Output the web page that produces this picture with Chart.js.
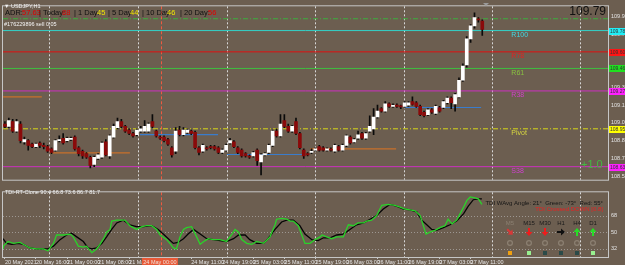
<!DOCTYPE html>
<html>
<head>
<meta charset="utf-8">
<script src="https://cdn.jsdelivr.net/npm/chart.js@4.4.1/dist/chart.umd.min.js"></script>
<style>
html, body { margin: 0; padding: 0; background: #6c5e50; overflow: hidden; }
#wrap { position: relative; width: 625px; height: 265px; }
canvas { position: absolute; left: 0; }
#main { top: 0; }
#tdi { top: 186px; }
</style>
</head>
<body>
<div id="wrap">
  <canvas id="main" width="625" height="186"></canvas>
  <canvas id="tdi" width="625" height="79"></canvas>
</div>
<script>
// USDJPY H1 candles (bar index 0 = first visible bar)
const opens  = [108.99,108.97,109.01,108.93,108.99,108.84,108.85,108.82,108.80,108.83,108.81,108.80,108.78,108.77,108.85,108.87,108.85,108.86,108.88,108.79,
                108.76,108.74,108.71,108.65,108.70,108.71,108.84,108.72,108.88,108.96,109.01,108.97,108.94,108.91,108.90,108.93,108.93,108.93,109.01,108.93,
                108.88,108.88,108.86,108.79,108.76,108.94,108.90,108.92,108.93,108.92,108.79,108.76,108.79,108.80,108.80,108.79,108.75,108.77,108.83,108.84,
                108.79,108.77,108.74,108.72,108.72,108.77,108.67,108.73,108.75,108.81,108.93,108.89,109.02,108.97,108.93,109.01,108.91,108.77,108.74,108.75,
                108.77,108.80,108.79,108.77,108.775,108.76,108.80,108.77,108.81,108.88,108.84,108.87,108.91,108.87,108.93,108.95,109.05,109.12,109.10,109.16,
                109.14,109.15,109.14,109.14,109.15,109.18,109.17,109.14,109.09,109.07,109.11,109.08,109.13,109.13,109.17,109.21,109.16,109.22,109.36,109.49,
                109.71,109.82,109.88,109.86];
const highs  = [109.01,109.04,109.03,109.03,109.01,108.88,108.86,108.83,108.83,108.84,108.83,108.81,108.79,108.86,108.89,108.91,108.88,108.88,108.89,108.80,
                108.77,108.75,108.72,108.72,108.74,108.84,108.86,108.90,108.99,109.04,109.03,108.98,108.95,108.92,108.95,108.97,109.02,109.00,109.07,108.94,
                108.89,108.89,108.87,108.80,108.96,108.97,108.96,108.95,108.94,108.93,108.80,108.82,108.80,108.81,108.81,108.80,108.78,108.82,108.87,108.85,
                108.80,108.78,108.75,108.73,108.76,108.78,108.74,108.75,108.82,108.94,108.95,109.07,109.07,108.99,108.98,109.04,108.92,108.78,108.75,108.78,
                108.79,108.81,108.80,108.79,108.79,108.82,108.81,108.82,108.90,108.89,108.87,108.93,108.92,108.92,109.06,109.12,109.15,109.13,109.18,109.17,
                109.16,109.16,109.15,109.18,109.18,109.22,109.18,109.15,109.10,109.12,109.12,109.15,109.14,109.19,109.22,109.22,109.25,109.38,109.50,109.73,
                109.83,109.93,109.89,109.87];
const lows   = [108.96,108.96,108.92,108.92,108.83,108.82,108.77,108.79,108.79,108.79,108.78,108.75,108.74,108.76,108.84,108.82,108.84,108.85,108.77,108.72,
                108.70,108.70,108.62,108.63,108.69,108.70,108.72,108.70,108.87,108.95,108.96,108.92,108.90,108.88,108.89,108.92,108.92,108.92,108.96,108.88,
                108.86,108.84,108.81,108.71,108.74,108.89,108.89,108.91,108.90,108.78,108.73,108.75,108.77,108.78,108.77,108.74,108.74,108.76,108.82,108.79,
                108.74,108.71,108.71,108.70,108.71,108.64,108.56,108.72,108.74,108.80,108.88,108.88,108.96,108.92,108.92,108.90,108.78,108.70,108.72,108.74,
                108.76,108.76,108.76,108.76,108.76,108.75,108.76,108.76,108.80,108.82,108.83,108.86,108.86,108.86,108.92,108.90,109.04,109.09,109.09,109.13,
                109.13,109.13,109.12,109.13,109.14,109.15,109.13,109.06,109.05,109.06,109.08,109.07,109.09,109.12,109.16,109.12,109.10,109.21,109.35,109.47,
                109.68,109.80,109.85,109.74];
const closes = [108.97,109.02,108.93,109.01,108.85,108.86,108.81,108.80,108.82,108.81,108.80,108.76,108.75,108.85,108.86,108.83,108.87,108.87,108.78,108.74,
                108.72,108.71,108.64,108.71,108.73,108.83,108.73,108.89,108.97,109.01,108.97,108.93,108.91,108.89,108.94,108.95,108.97,108.99,108.97,108.89,
                108.87,108.85,108.82,108.73,108.93,108.90,108.94,108.94,108.91,108.79,108.75,108.81,108.78,108.79,108.78,108.75,108.77,108.81,108.85,108.80,
                108.75,108.72,108.72,108.71,108.75,108.68,108.73,108.74,108.81,108.93,108.89,108.99,108.97,108.93,108.97,108.91,108.79,108.72,108.73,108.76,
                108.78,108.77,108.77,108.78,108.77,108.81,108.77,108.81,108.89,108.83,108.86,108.90,108.87,108.91,108.97,109.05,109.10,109.10,109.16,109.14,
                109.145,109.14,109.135,109.17,109.17,109.155,109.14,109.07,109.06,109.11,109.09,109.14,109.10,109.18,109.21,109.17,109.24,109.36,109.48,109.71,
                109.82,109.89,109.87,109.79];

// horizontal levels drawn across the whole panel
const levelNames  = ['R100', 'R78', 'R61', 'R38', 'Pivot', 'S38'];
const levelPrices = [109.78, 109.60, 109.46, 109.27, 108.95, 108.63];
const adrHigh = 109.88;

// short horizontal segments (bar index from / to, price)
const segFrom  = [-0.5, 11.6, 34.8, 57.2, 78.6, 103.1];
const segTo    = [9.5, 32.2, 54.9, 77.3, 100.8, 122.7];
const segPrice = [109.22, 108.747, 108.90, 108.733, 108.78, 109.13];

// TDI lines: bar index and value
const tdiGreenX = [-0.5,-0.4,0.8,2.2,3.9,4.7,6.4,8.1,9.9,11.1,12.5,13.3,15.1,16.8,17.6,18.9,20.2,21.0,22.4,23.6,24.5,25.4,26.2,27.1,27.5,28.8,30.1,30.9,32.2,33.9,
                   35.3,36.5,37.8,39.1,40.0,41.7,42.5,43.4,44.2,45.1,46.0,46.8,48.1,49.4,50.3,51.6,52.4,53.7,55.4,57.1,58.5,59.3,60.2,61.0,62.3,63.6,64.9,66.6,67.4,68.3,
                   69.6,70.0,71.3,72.6,73.5,74.3,75.6,76.5,77.3,78.6,79.9,81.2,81.7,82.9,84.2,85.5,87.2,88.5,89.8,91.0,92.4,93.2,94.5,95.8,97.1,98.8,100.5,101.8,103.1,104.4,
                   105.7,107.0,108.5,109.5,110.8,112.1,113.4,114.2,115.2,116.4,117.3,118.2,119.0,119.9,121.1,122.0,122.9];
const tdiGreen  = [33,35,40,38,39,37,33,32,32,30,38,47,47,48,45,35,34,35,28,32,37,43,50,53,62,63,63,63,57,53,
                   56,57,57,53,47,42,38,33,32,45,53,55,56,45,37,41,43,42,42,40,48,53,50,42,38,37,40,38,41,45,
                   58,64,65,64,62,62,57,47,38,38,42,45,47,45,43,45,45,58,57,60,60,62,63,68,79,80,79,77,75,74,
                   73,68,48,50,52,55,57,64,59,63,70,77,84,88,87,86,80];
const tdiBlackX = [-0.5,0.4,1.8,3.4,4.7,6.4,8.1,9.9,11.1,12.5,14.2,15.9,17.2,18.5,20.2,21.4,22.4,23.6,25.0,26.2,27.5,28.8,30.5,32.2,33.9,35.7,37.8,39.5,40.8,42.1,
                   43.4,44.6,46.0,47.2,48.6,50.3,52.0,53.7,55.4,57.1,58.9,60.2,61.9,63.1,64.9,66.6,67.8,69.6,71.3,72.6,74.3,76.0,77.3,79.1,80.7,82.1,83.8,85.5,87.2,88.9,
                   90.6,92.4,94.1,95.8,97.5,99.2,100.9,102.7,104.4,106.1,107.4,108.7,110.0,111.2,113.0,114.7,116.4,118.2,119.4,120.7,122.0,122.9];
const tdiBlack  = [43,38,37,38,37,33,32,32,32,35,42,47,49,45,40,33,32,33,38,45,53,60,63,58,56,56,57,53,48,43,
                   38,39,43,48,53,48,43,42,41,40,43,47,47,42,38,38,43,53,61,63,63,57,48,42,41,44,44,47,48,53,
                   58,60,64,68,75,80,78,75,74,72,63,58,53,52,55,58,62,70,78,85,86,86];

// axes
const priceTicks = [108.55, 108.70, 108.85, 109.00, 109.15, 109.30, 109.45, 109.60, 109.75, 109.90];
const tdiTicks = [32, 50, 68];
const timeBars = [0, 8, 16, 24, 32, 48, 56, 64, 72, 80, 88, 96, 104, 112, 120];
const timeLabels = ['20 May 2021', '20 May 16:00', '21 May 00:00', '21 May 08:00', '21 May 16:00',
                    '24 May 11:00', '24 May 19:00', '25 May 03:00', '25 May 11:00', '25 May 19:00',
                    '26 May 03:00', '26 May 11:00', '26 May 19:00', '27 May 03:00', '27 May 11:00'];
const gridBars = [11.3, 34.3, 57.2, 79.9, 102.8, 125.5, 148.2];
const sepBar = 40.2;
const sepLabel = '24 May 00:00';

// ADR panel
const adrParts = [['ADR:', '#111'], ['57.63', '#e00000'], ['| Today:', '#111'], ['88', '#e00000'],
                  ['| 1 Day:', '#111'], ['45', '#f2e600'], ['| 5 Day:', '#111'], ['44', '#f2e600'],
                  ['| 10 Day:', '#111'], ['46', '#f2e600'], ['| 20 Day:', '#111'], ['56', '#e00000']];
const adrX = [5, 22, 39, 62, 74, 97, 108, 130, 142, 167, 180, 208];

const tfNames = ['M5', 'M15', 'M30', 'H1', 'H4', 'D1'];
const tfArrow = ['downright', 'down', 'down', 'right', 'up', 'up'];
const tfSquare = ['#f0a010', '#98f090', '#2a4a48', '#2a4a48', '#2a4a48', '#98f090'];

const FONT = '"Liberation Sans", Arial, sans-serif';
const X_MIN = -0.5, X_MAX = 155.4;

const levelLine = ['#33d2c8', '#e01010', '#3fc03f', '#cc30c0', '#d8d818', '#cc30c0'];
const levelText = ['#40d8e4', '#e42020', '#88c040', '#d040c8', '#d8d840', '#d040d0'];
const levelBox  = ['#20eef6', '#ff1414', '#20e020', '#ff20ff', '#ffff00', '#ff20ff'];
const segColor  = ['#c8702a', '#c8702a', '#3a7ccc', '#3a7ccc', '#c8702a', '#3a7ccc'];

function vGrid(chart) {
    const {ctx, chartArea: a, scales: {x}} = chart;
    ctx.save();
    ctx.lineWidth = 1;
    ctx.setLineDash([2, 2]);
    ctx.strokeStyle = '#d8d8d8';
    gridBars.forEach(b => {
        const px = Math.round(x.getPixelForValue(b)) + 0.5;
        ctx.beginPath(); ctx.moveTo(px, a.top); ctx.lineTo(px, a.bottom); ctx.stroke();
    });
    ctx.setLineDash([3, 2]);
    ctx.strokeStyle = '#ee5a40';
    const sx = Math.round(x.getPixelForValue(sepBar)) + 0.5;
    ctx.beginPath(); ctx.moveTo(sx, a.top); ctx.lineTo(sx, a.bottom); ctx.stroke();
    ctx.restore();
}

function frame(chart) {
    const {ctx, chartArea: a} = chart;
    ctx.save();
    ctx.strokeStyle = '#c6c6c6';
    ctx.lineWidth = 1;
    ctx.strokeRect(a.left - 0.5, a.top - 0.5, a.right - a.left + 1, a.bottom - a.top + 1);
    ctx.restore();
}

const mainPlugin = {
    id: 'mainDeco',
    beforeDatasetsDraw(chart) { vGrid(chart); },
    afterDraw(chart) {
        const {ctx, chartArea: a, scales: {x, y}} = chart;
        frame(chart);
        ctx.save();
        // level names
        ctx.font = '7px ' + FONT;
        ctx.textBaseline = 'middle';
        const lx = x.getPixelForValue(130.5);
        levelNames.forEach((n, i) => {
            ctx.fillStyle = levelText[i];
            ctx.fillText(n, lx, y.getPixelForValue(levelPrices[i]) + 4.5);
        });
        ctx.fillStyle = '#44b844';
        ctx.font = '11px ' + FONT;
        ctx.fillText('+1.0', 581, y.getPixelForValue(levelPrices[5]) - 2);
        // price boxes on the axis
        ctx.font = '5px ' + FONT;
        levelPrices.forEach((p, i) => {
            const py = Math.round(y.getPixelForValue(p));
            ctx.fillStyle = levelBox[i];
            ctx.fillRect(a.right + 1, py - 3, 17, 7);
            ctx.fillStyle = '#333';
            ctx.fillText(p.toFixed(2), a.right + 2, py + 0.5);
        });
        // header texts
        ctx.fillStyle = '#f4f4f4';
        ctx.font = '5.5px ' + FONT;
        ctx.fillText('\u25BC USDJPY,H1', 4, 6);
        ctx.fillText('#176229896 sell 0.05', 4, 24);
        ctx.font = '7.5px ' + FONT;
        adrParts.forEach((p, i) => {
            ctx.fillStyle = p[1];
            ctx.fillText(p[0], adrX[i], 13);
        });
        ctx.fillStyle = '#111';
        ctx.font = '12px ' + FONT;
        ctx.textAlign = 'right';
        ctx.fillText(closes[closes.length - 1].toFixed(2), 606, 12);
        // shift marker
        ctx.fillStyle = '#9a9a9a';
        ctx.beginPath(); ctx.moveTo(483, 3); ctx.lineTo(489, 3); ctx.lineTo(486, 6); ctx.closePath(); ctx.fill();
        ctx.restore();
    }
};

function arrow(ctx, cx, cy, dir, color) {
    const ang = {down: Math.PI / 2, downright: Math.PI / 4, right: 0, up: -Math.PI / 2}[dir];
    ctx.save();
    ctx.translate(cx, cy);
    ctx.rotate(ang);
    ctx.fillStyle = color;
    ctx.beginPath();
    ctx.moveTo(-4, -1); ctx.lineTo(0, -1); ctx.lineTo(0, -3.5); ctx.lineTo(4, 0);
    ctx.lineTo(0, 3.5); ctx.lineTo(0, 1); ctx.lineTo(-4, 1); ctx.closePath();
    ctx.fill();
    ctx.restore();
}

const tdiPlugin = {
    id: 'tdiDeco',
    beforeDatasetsDraw(chart) {
        const {ctx, chartArea: a, scales: {y}} = chart;
        ctx.save();
        ctx.lineWidth = 1;
        ctx.setLineDash([1, 2]);
        ctx.strokeStyle = 'rgba(190,190,190,0.6)';
        tdiTicks.forEach(t => {
            const py = Math.round(y.getPixelForValue(t)) + 0.5;
            ctx.beginPath(); ctx.moveTo(a.left, py); ctx.lineTo(a.right, py); ctx.stroke();
        });
        ctx.restore();
        vGrid(chart);
    },
    afterDraw(chart) {
        const {ctx, chartArea: a, scales: {x}} = chart;
        frame(chart);
        ctx.save();
        ctx.textBaseline = 'middle';
        ctx.fillStyle = '#f4f4f4';
        ctx.font = '5.5px ' + FONT;
        ctx.fillText('TDI-RT-Clone 90.4 66.8 73.6 86.7 81.7', 5, 6);
        ctx.textAlign = 'right';
        ctx.font = '6px ' + FONT;
        ctx.fillStyle = '#151515';
        ctx.fillText('TDI WAvg Angle: 21\u00B0  Green: -73\u00B0  Red: 55\u00B0', 603, 17);
        ctx.fillStyle = '#e82020';
        ctx.fillText('TDI Crossed DOWN [0.8]', 603, 23);
        const cols = [510, 529, 545, 561, 577, 593];
        const arrowCol = {downright: '#d83838', down: '#ee1c1c', right: '#101010', up: '#28dc28'};
        ctx.textAlign = 'center';
        cols.forEach((cx, i) => {
            ctx.fillStyle = i === 0 ? '#8c8072' : '#1a1a1a';
            ctx.fillText(tfNames[i], cx, 37);
            arrow(ctx, cx, 46, tfArrow[i], arrowCol[tfArrow[i]]);
            ctx.strokeStyle = '#8c8072';
            ctx.lineWidth = 1.2;
            ctx.beginPath(); ctx.arc(cx, 57, 2.4, 0, Math.PI * 2); ctx.stroke();
            ctx.fillStyle = tfSquare[i];
            ctx.fillRect(cx - 2, 65, 4, 4);
        });
        // red time box on the axis
        const sx = x.getPixelForValue(sepBar);
        ctx.fillStyle = '#e85a38';
        ctx.fillRect(sx - 19, a.bottom + 1, 36, 8);
        ctx.fillStyle = '#f0e0d8';
        ctx.font = '5.5px ' + FONT;
        ctx.fillText(sepLabel, sx - 1, a.bottom + 5);
        ctx.restore();
    }
};

const flat = v => [{x: X_MIN, y: v}, {x: X_MAX, y: v}];

const lineSets = levelPrices.map((p, i) => ({
    type: 'line', data: flat(p), borderColor: levelLine[i], borderWidth: 1,
    borderDash: i === 4 ? [5, 2, 1, 2] : [], pointRadius: 0, order: 3
}));
lineSets.push({type: 'line', data: flat(adrHigh), borderColor: '#3cae3c', borderWidth: 1.2,
    borderDash: [5, 2, 1, 2], pointRadius: 0, order: 3});
segPrice.forEach((p, i) => lineSets.push({
    type: 'line', data: [{x: segFrom[i], y: p}, {x: segTo[i], y: p}],
    borderColor: segColor[i], borderWidth: 1.2, pointRadius: 0, order: 3
}));

new Chart(document.getElementById('main'), {
    type: 'bar',
    data: {
        datasets: [
            {
                data: opens.map((o, i) => ({x: i, y: [lows[i], highs[i]]})),
                backgroundColor: '#0a0a0a', barThickness: 1, grouped: false, order: 2
            },
            {
                data: opens.map((o, i) => ({x: i, y: [o, closes[i]]})),
                backgroundColor: opens.map((o, i) => closes[i] >= o ? '#ffffff' : '#8a0a0a'),
                borderColor: '#1a1a1a', borderWidth: 0, barThickness: 3, minBarLength: 1,
                grouped: false, order: 1
            },
            ...lineSets
        ]
    },
    options: {
        responsive: false, animation: false,
        layout: {padding: {left: 3, top: 3, right: 0, bottom: 3}},
        plugins: {legend: {display: false}, tooltip: {enabled: false}},
        scales: {
            x: {type: 'linear', min: X_MIN, max: X_MAX, offset: false, display: false},
            y: {
                position: 'right', min: 108.52, max: 109.985,
                afterBuildTicks(s) { s.ticks = priceTicks.map(v => ({value: v})); },
                afterFit(s) { s.width = 17; },
                grid: {display: false, drawTicks: false},
                border: {display: false},
                ticks: {color: '#e4e4e4', font: {size: 5.5, family: FONT}, padding: 3,
                        callback: v => v.toFixed(2)}
            }
        }
    },
    plugins: [mainPlugin]
});

new Chart(document.getElementById('tdi'), {
    type: 'line',
    data: {
        datasets: [
            {data: tdiGreenX.map((b, i) => ({x: b, y: tdiGreen[i]})), borderColor: '#2ad22a',
             borderWidth: 1.3, pointRadius: 0, tension: 0},
            {data: tdiBlackX.map((b, i) => ({x: b, y: tdiBlack[i]})), borderColor: '#050505',
             borderWidth: 1.3, pointRadius: 0, tension: 0}
        ]
    },
    options: {
        responsive: false, animation: false,
        layout: {padding: {left: 3, top: 1, right: 0, bottom: 0}},
        plugins: {legend: {display: false}, tooltip: {enabled: false}},
        scales: {
            x: {
                type: 'linear', min: X_MIN, max: X_MAX,
                afterBuildTicks(s) { s.ticks = timeBars.map(v => ({value: v})); },
                afterFit(s) { s.height = 8; },
                grid: {drawOnChartArea: false, drawTicks: true, tickLength: 2, color: '#c6c6c6'},
                border: {display: false},
                ticks: {color: '#e6e6e6', font: {size: 5.5, family: FONT}, padding: 0, align: 'start',
                        autoSkip: false, maxRotation: 0, minRotation: 0,
                        callback: (v, i) => timeLabels[i]}
            },
            y: {
                position: 'right', min: 23.3, max: 93,
                afterBuildTicks(s) { s.ticks = tdiTicks.map(v => ({value: v})); },
                afterFit(s) { s.width = 17; },
                grid: {display: false, drawTicks: false},
                border: {display: false},
                ticks: {color: '#e4e4e4', font: {size: 5.5, family: FONT}, padding: 3}
            }
        }
    },
    plugins: [tdiPlugin]
});
</script>
</body>
</html>
